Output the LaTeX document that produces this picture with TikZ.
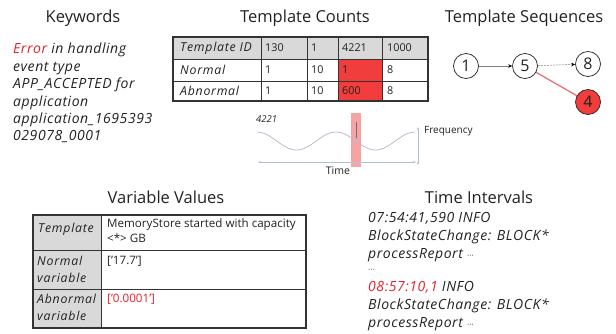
\documentclass[tikz,border=0pt]{standalone}
\usepackage{fontspec}
\setmainfont{Open Sans}
\newfontfamily\spacedsans[LetterSpace=4]{Open Sans}
\newfontfamily\labsans[LetterSpace=6]{Open Sans}
\usetikzlibrary{arrows.meta}

\definecolor{cellgray}{HTML}{D9D9D9}
\definecolor{hotred}{HTML}{F23D3D}
\definecolor{txt}{HTML}{222222}
\definecolor{errred}{HTML}{E3222B}
\definecolor{wavecol}{HTML}{B3BFD3}
\definecolor{bandcol}{HTML}{F6A3A3}
\definecolor{edgered}{HTML}{E8707A}
\definecolor{gridcol}{HTML}{333333}

\begin{document}
\begin{tikzpicture}[x=1pt,y=-1pt,
  title/.style={font=\fontsize{16.5}{18}\selectfont, text=txt},
  bodyit/.style={font=\spacedsans\fontsize{14}{17.4}\selectfont\itshape, text=txt, align=left, anchor=north west, inner sep=0pt},
  celllab/.style={font=\labsans\fontsize{12.3}{17}\selectfont\itshape, text=txt, anchor=west, inner sep=0pt, align=left},
  cellnum/.style={font=\fontsize{10.8}{13}\selectfont, text=txt, anchor=west, inner sep=0pt},
  gridline/.style={draw=gridcol, line width=0.8pt},
  seqnode/.style={circle, draw=txt, line width=0.7pt, minimum size=25pt, inner sep=0pt, font=\fontsize{16}{18}\selectfont, text=txt},
  seqarrow/.style={draw=gray, line width=0.5pt, -{Stealth[length=4pt,width=3.5pt,black]}},
  axis/.style={draw=wavecol, line width=0.6pt, {Stealth[length=3pt,width=2.5pt]}-{Stealth[length=3pt,width=2.5pt]}}
]
\useasboundingbox (0,0) rectangle (616,333);

% ---------- Keywords ----------
\node[title] (kwtitle) at (83,18) {Keywords};
\node[bodyit] (kwbody) at (13,43) {\textcolor{errred}{Error} in handling\\event type\\APP\_ACCEPTED for\\application\\application\_1695393\\029078\_0001};

% ---------- Template Counts ----------
\node[title] (tctitle) at (305,18) {Template Counts};
\fill[cellgray] (173,37) rectangle (428,59);
\fill[hotred] (338,59) rectangle (382,101);
\foreach \yy in {59,81} \draw[gridline] (173,\yy) -- (428,\yy);
\foreach \xx in {261,307,338,382} \draw[gridline] (\xx,37) -- (\xx,101);
\draw[gridline, line width=1.1pt] (173,37) rectangle (428,101);

\node[celllab] (tcid) at (180,48) {Template ID};
\node[celllab] (tcnorm) at (180,70) {Normal};
\node[celllab] (tcabn) at (180,91) {Abnormal};
\node[cellnum] (h1) at (265,48) {130};
\node[cellnum] (h2) at (311,48) {1};
\node[cellnum] (h3) at (342,48) {4221};
\node[cellnum] (h4) at (387,48) {1000};
\node[cellnum] (n1) at (265,70) {1};
\node[cellnum] (n2) at (311,70) {10};
\node[cellnum] (n3) at (342,70) {1};
\node[cellnum] (n4) at (387,70) {8};
\node[cellnum] (a1) at (265,91) {1};
\node[cellnum] (a2) at (311,91) {10};
\node[cellnum] (a3) at (342,91) {600};
\node[cellnum] (a4) at (387,91) {8};

% ---------- frequency sketch ----------
\fill[bandcol] (351,113) rectangle (361,167);
\node[font=\fontsize{9.5}{10}\selectfont\itshape, text=txt, anchor=west, inner sep=0pt] (fid) at (256,119) {4221};
\draw[wavecol, line width=0.8pt] plot[domain=0:158, samples=120] ({257+\x}, {141 - 9*cos(4.557*\x)});
\draw[gridcol!70, line width=0.5pt] (356,122) -- (356,138);
\coordinate (tl) at (258,162);
\coordinate (tr) at (416,162);
\coordinate (fb) at (418,165);
\coordinate (ft) at (418,127);
\draw[axis] (tl) -- (tr);
\draw[axis] (fb) -- (ft);
\node[font=\fontsize{10}{12}\selectfont, text=txt, anchor=west, inner sep=0pt] (freq) at (424,131) {Frequency};
\node[font=\fontsize{10.5}{12}\selectfont, text=txt, inner sep=0pt] (time) at (338,171) {Time};

% ---------- Template Sequences ----------
\node[title] (tstitle) at (524,18) {Template Sequences};
\node[seqnode] (s1) at (466,66) {1};
\node[seqnode] (s5) at (525,66) {5};
\node[seqnode] (s8) at (588,64) {8};
\node[seqnode, fill=hotred] (s4) at (588,102) {4};
\draw[seqarrow] (s1) -- (s5);
\draw[seqarrow, dashed, dash pattern=on 2pt off 1pt] (s5) -- (s8);
\draw[edgered, line width=1.3pt] (s5) -- (s4);

% ---------- Variable Values ----------
\node[title] (vvtitle) at (166,197) {Variable Values};
\fill[cellgray] (33,215) rectangle (101,328);
\foreach \yy in {250,289} \draw[gridline] (33,\yy) -- (306,\yy);
\draw[gridline] (101,215) -- (101,328);
\draw[gridline, line width=1.2pt] (33,215) rectangle (306,328);
\node[celllab] (vtpl) at (38,229) {Template};
\node[celllab, anchor=north west] (vnorm) at (37,256) {Normal\\variable};
\node[celllab, anchor=north west] (vabn) at (37,294) {Abnormal\\variable};
\node[font=\fontsize{11.6}{15.5}\selectfont, text=txt, anchor=north west, inner sep=0pt, align=left] (vmsg) at (107,218) {MemoryStore started with capacity\\<*> GB};
\node[cellnum, font=\fontsize{11.6}{13}\selectfont, anchor=north west] (vnval) at (107,256) {['17.7']};
\node[cellnum, font=\fontsize{11.6}{13}\selectfont, anchor=north west, text=errred] (vaval) at (107,294) {['0.0001']};

% ---------- Time Intervals ----------
\node[bodyit, font=\spacedsans\fontsize{14}{18}\selectfont\itshape] (tibody) at (368,212) {07:54:41,590 INFO\\BlockStateChange: BLOCK*\\processReport {\footnotesize···}\\[-4pt]{\footnotesize···}\\[1pt]\textcolor{errred}{08:57:10,1} INFO\\BlockStateChange: BLOCK*\\processReport {\footnotesize···}};
\node[title] (tititle) at (479,197) {Time Intervals};
\end{tikzpicture}
\end{document}
